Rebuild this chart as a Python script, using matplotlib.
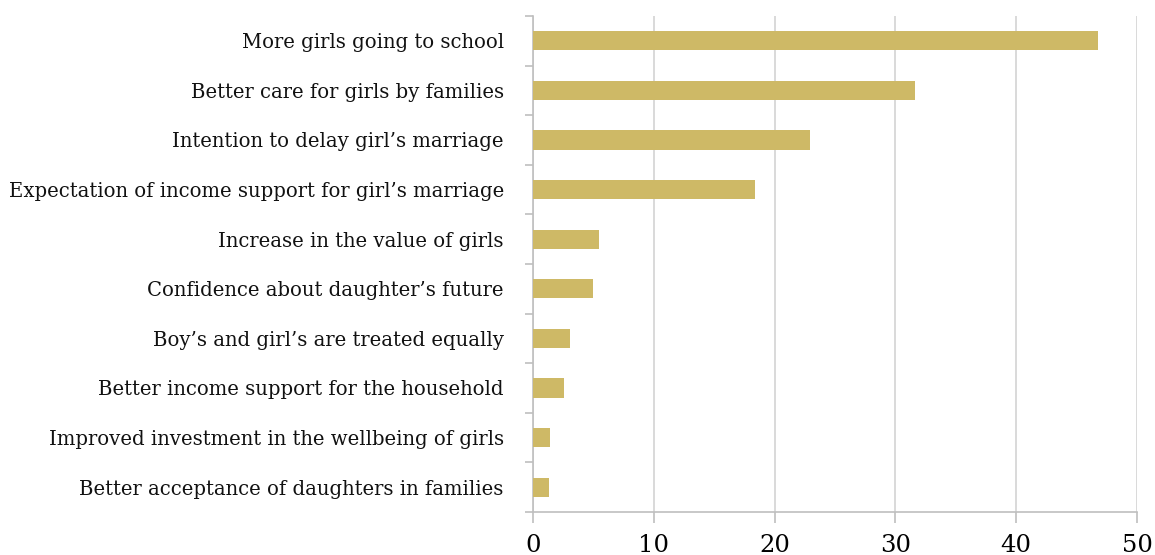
import matplotlib
matplotlib.use("Agg")
import matplotlib.pyplot as plt
import numpy as np

categories = [
    "More girls going to school",
    "Better care for girls by families",
    "Intention to delay girl\u2019s marriage",
    "Expectation of income support for girl\u2019s marriage",
    "Increase in the value of girls",
    "Confidence about daughter\u2019s future",
    "Boy\u2019s and girl\u2019s are treated equally",
    "Better income support for the household",
    "Improved investment in the wellbeing of girls",
    "Better acceptance of daughters in families",
]
values = [46.8, 31.6, 22.9, 18.4, 5.5, 5.0, 3.1, 2.6, 1.4, 1.3]
x_ticks = [0, 10, 20, 30, 40, 50]

plt.rcParams["font.family"] = ["DejaVu Serif"]

fig = plt.figure(figsize=(11.55, 5.55), dpi=100)
ax = fig.add_axes([533 / 1155, 1 - 512 / 555, (1137 - 533) / 1155, (512 - 16) / 555])

n = len(categories)
y = np.arange(n)
ax.barh(y, values, height=0.385, color="#CEB966", zorder=3)

ax.set_ylim(n - 0.5, -0.5)
ax.set_xlim(0, 50)

ax.set_xticks(x_ticks)
ax.set_xticklabels([str(t) for t in x_ticks], fontsize=17.5)
ax.set_yticks(y)
ax.set_yticklabels(categories, fontsize=14.1, color="#111111")
ax.set_yticks(np.arange(-0.5, n, 1), minor=True)

ax.tick_params(axis="y", which="major", length=0, pad=21)
ax.tick_params(axis="y", which="minor", length=6, color="#BFBFBF", width=1.2)
ax.tick_params(axis="x", which="major", length=8, color="#BFBFBF", width=1.2, pad=8)

ax.grid(axis="x", color="#D0D0D0", linewidth=1.1, zorder=0)
for side in ("top", "right"):
    ax.spines[side].set_visible(False)
for side in ("left", "bottom"):
    ax.spines[side].set_color("#BFBFBF")
    ax.spines[side].set_linewidth(1.2)

fig.savefig("out.png", dpi=100)
